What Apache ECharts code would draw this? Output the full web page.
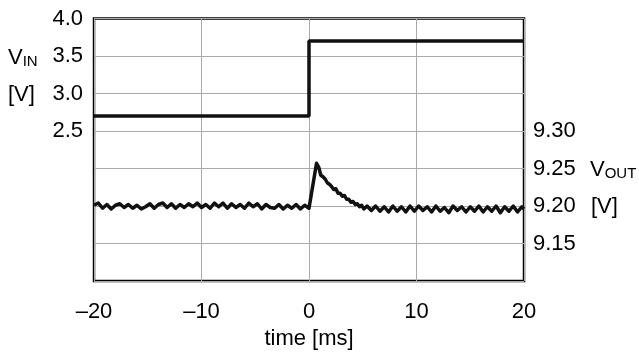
<!DOCTYPE html>
<html>
<head>
<meta charset="utf-8">
<script src="https://cdn.jsdelivr.net/npm/echarts@6/dist/echarts.min.js"></script>
<style>
html,body{margin:0;padding:0;background:#fff;}
#c{width:639px;height:352px;}
</style>
</head>
<body>
<div id="c"></div>
<script>
// ---- data ----
var timeTicks = [-20, -10, 0, 10, 20];
var vinTicks = ['2.5', '3.0', '3.5', '4.0'];
var voutTicks = ['9.15', '9.20', '9.25', '9.30'];

var vinTime = [-20, 0, 0, 20];
var vinValue = [2.7, 2.7, 3.7, 3.7];

var voutTime = [
  -20.0,-19.6,-19.2,-18.8,-18.4,-18.0,-17.6,-17.2,-16.8,-16.4,
  -16.0,-15.6,-15.2,-14.8,-14.4,-14.0,-13.6,-13.2,-12.8,-12.4,
  -12.0,-11.6,-11.2,-10.8,-10.4,-10.0,-9.6,-9.2,-8.8,-8.4,
  -8.0,-7.6,-7.2,-6.8,-6.4,-6.0,-5.6,-5.2,-4.8,-4.4,
  -4.0,-3.6,-3.2,-2.8,-2.4,-2.0,-1.6,-1.2,-0.8,-0.4,
  0.0,0.15,0.7,0.9,1.1,1.3,1.5,1.7,1.9,2.1,
  2.3,2.5,2.7,2.9,3.1,3.3,3.5,3.7,3.9,4.1,
  4.3,4.5,4.7,4.9,5.1,5.4,5.8,6.2,6.6,7.0,
  7.4,7.8,8.2,8.6,9.0,9.4,9.8,10.2,10.6,11.0,
  11.4,11.8,12.2,12.6,13.0,13.4,13.8,14.2,14.6,15.0,
  15.4,15.8,16.2,16.6,17.0,17.4,17.8,18.2,18.6,19.0,
  19.4,19.8,20.0
];
var voutValue = [
  9.201,9.204,9.197,9.202,9.196,9.201,9.203,9.198,9.202,9.197,
  9.201,9.196,9.199,9.203,9.197,9.202,9.204,9.198,9.203,9.197,
  9.202,9.198,9.203,9.199,9.204,9.198,9.202,9.197,9.204,9.199,
  9.204,9.197,9.203,9.198,9.202,9.197,9.204,9.199,9.203,9.196,
  9.202,9.198,9.197,9.202,9.196,9.201,9.197,9.202,9.196,9.201,
  9.197,9.195,9.257,9.252,9.241,9.239,9.236,9.231,9.229,9.226,
  9.222,9.223,9.217,9.217,9.213,9.214,9.209,9.209,9.205,9.206,
  9.202,9.203,9.199,9.201,9.196,9.200,9.194,9.200,9.193,9.199,
  9.192,9.200,9.193,9.199,9.192,9.200,9.193,9.200,9.194,9.199,
  9.192,9.200,9.193,9.198,9.191,9.200,9.194,9.199,9.192,9.199,
  9.193,9.200,9.192,9.199,9.193,9.200,9.191,9.199,9.193,9.200,
  9.192,9.199,9.196
];

function pairs(xs, ys){ var r=[]; for(var i=0;i<xs.length;i++) r.push([xs[i], ys[i]]); return r; }

var FONT = 'Liberation Sans, Arial, sans-serif';
var chart = echarts.init(document.getElementById('c'), null, {renderer:'canvas'});
chart.setOption({
  animation:false,
  backgroundColor:'#fff',
  grid:{left:94, top:18.5, right:115, bottom:71, outerBoundsMode:'none', containLabel:false,
    show:true, borderColor:'#000', borderWidth:2.5, backgroundColor:'transparent'},
  xAxis:{
    type:'value', min:-20, max:20, interval:10,
    axisLine:{show:false}, axisTick:{show:false},
    splitLine:{show:true, lineStyle:{color:'#aaa', width:1}},
    axisLabel:{fontFamily:FONT, fontSize:22, color:'#000', margin:20,
      formatter:function(v){ return timeTicks.indexOf(v)>=0 ? String(v).replace('-', '\u2013') : ''; }},
    name:'time [ms]', nameLocation:'middle', nameGap:45,
    nameTextStyle:{fontFamily:FONT, fontSize:22, color:'#000'}
  },
  yAxis:[{
    type:'value', min:0.5, max:4.0, interval:0.5,
    axisLine:{show:false}, axisTick:{show:false},
    splitLine:{show:true, lineStyle:{color:'#aaa', width:1}},
    axisLabel:{fontFamily:FONT, fontSize:22, color:'#000', margin:11,
      formatter:function(v){ var s=v.toFixed(1); return vinTicks.indexOf(s)>=0 ? s : ''; }}
  },{
    type:'value', min:9.10, max:9.45, interval:0.05, position:'right',
    axisLine:{show:false}, axisTick:{show:false}, splitLine:{show:false},
    axisLabel:{fontFamily:FONT, fontSize:22, color:'#000', margin:9,
      formatter:function(v){ var s=v.toFixed(2); return voutTicks.indexOf(s)>=0 ? s : ''; }}
  }],
  graphic:[
    {type:'text', left:8, top:47, style:{text:'{a|V}{b|IN}', rich:{
      a:{fontFamily:FONT, fontSize:22, fill:'#000'},
      b:{fontFamily:FONT, fontSize:15, fill:'#000', verticalAlign:'bottom', padding:[8,0,0,0]}}}},
    {type:'text', left:8, top:84, style:{text:'[V]', fontFamily:FONT, fontSize:22, fill:'#000'}},
    {type:'text', left:590, top:159, style:{text:'{a|V}{b|OUT}', rich:{
      a:{fontFamily:FONT, fontSize:22, fill:'#000'},
      b:{fontFamily:FONT, fontSize:15, fill:'#000', verticalAlign:'bottom', padding:[8,0,0,0]}}}},
    {type:'text', left:591, top:196, style:{text:'[V]', fontFamily:FONT, fontSize:22, fill:'#000'}}
  ],
  series:[{
    type:'line', yAxisIndex:0, data:pairs(vinTime, vinValue), symbol:'none',
    lineStyle:{color:'#111', width:3.5}, z:3
  },{
    type:'line', yAxisIndex:1, data:pairs(voutTime, voutValue), symbol:'none',
    lineStyle:{color:'#111', width:3.5, join:'round'}, z:3
  }]
});
</script>
</body>
</html>
